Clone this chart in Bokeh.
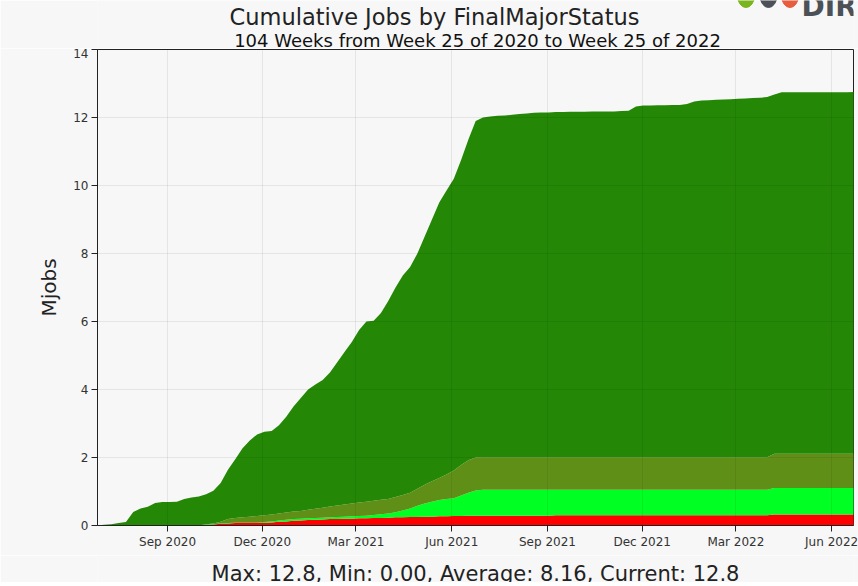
import pandas as pd
from bokeh.plotting import figure
from bokeh.layouts import column
from bokeh.models import Range1d, FixedTicker, DatetimeTickFormatter, ColumnDataSource, Label
from bokeh.embed import file_html
from bokeh.resources import INLINE

# ---- data (weekly, cumulative, Mjobs) ----
start_date = "2020-06-25"
n_points = 105
weeks = pd.date_range(start_date, periods=n_points, freq="7D")

failed = [0, 0, 0, 0, 0, 0, 0, 0, 0, 0,
          0, 0, 0, 0, 0, 0.01, 0.03, 0.05, 0.06, 0.07,
          0.07, 0.07, 0.07, 0.08, 0.09, 0.11, 0.12, 0.14, 0.15, 0.16,
          0.17, 0.18, 0.19, 0.19, 0.20, 0.20, 0.21, 0.21, 0.22, 0.22,
          0.23, 0.24, 0.24, 0.25, 0.25, 0.26, 0.26, 0.27, 0.27, 0.28,
          0.28, 0.29, 0.29, 0.29, 0.29, 0.29, 0.29, 0.29, 0.29, 0.29,
          0.29, 0.29, 0.29, 0.30, 0.30, 0.30, 0.30, 0.30, 0.30, 0.30,
          0.30, 0.30, 0.30, 0.30, 0.30, 0.30, 0.30, 0.30, 0.30, 0.30,
          0.30, 0.30, 0.30, 0.30, 0.30, 0.30, 0.30, 0.30, 0.30, 0.30,
          0.30, 0.30, 0.30, 0.32, 0.32, 0.32, 0.32, 0.32, 0.32, 0.32,
          0.32, 0.32, 0.32, 0.32, 0.32]

killed = [0, 0, 0, 0, 0, 0, 0, 0, 0, 0,
          0, 0, 0, 0, 0, 0.01, 0.01, 0.01, 0.01, 0.01,
          0.01, 0.01, 0.01, 0.02, 0.03, 0.04, 0.05, 0.05, 0.05, 0.05,
          0.05, 0.05, 0.05, 0.06, 0.06, 0.07, 0.07, 0.08, 0.09, 0.11,
          0.12, 0.15, 0.20, 0.25, 0.33, 0.39, 0.44, 0.48, 0.51, 0.52,
          0.60, 0.67, 0.74, 0.76, 0.76, 0.76, 0.76, 0.76, 0.76, 0.76,
          0.76, 0.76, 0.76, 0.75, 0.75, 0.75, 0.75, 0.75, 0.75, 0.75,
          0.75, 0.75, 0.75, 0.75, 0.75, 0.75, 0.75, 0.75, 0.75, 0.75,
          0.75, 0.75, 0.75, 0.75, 0.75, 0.75, 0.75, 0.75, 0.75, 0.75,
          0.75, 0.75, 0.75, 0.78, 0.78, 0.78, 0.78, 0.78, 0.78, 0.78,
          0.78, 0.78, 0.78, 0.78, 0.78]

completed = [0, 0, 0, 0, 0, 0, 0, 0, 0, 0,
             0, 0, 0, 0, 0, 0.02, 0.02, 0.05, 0.12, 0.14,
             0.16, 0.18, 0.20, 0.20, 0.20, 0.20, 0.21, 0.22, 0.23, 0.25,
             0.27, 0.29, 0.32, 0.34, 0.36, 0.38, 0.40, 0.41, 0.42, 0.43,
             0.43, 0.45, 0.46, 0.46, 0.50, 0.55, 0.60, 0.65, 0.72, 0.82,
             0.90, 0.96, 0.97, 0.96, 0.96, 0.96, 0.96, 0.96, 0.96, 0.96,
             0.96, 0.96, 0.96, 0.96, 0.96, 0.96, 0.96, 0.96, 0.96, 0.96,
             0.96, 0.96, 0.96, 0.96, 0.96, 0.96, 0.96, 0.96, 0.96, 0.96,
             0.96, 0.96, 0.96, 0.96, 0.96, 0.96, 0.96, 0.96, 0.96, 0.96,
             0.96, 0.96, 0.96, 1.01, 1.01, 1.01, 1.01, 1.01, 1.01, 1.01,
             1.01, 1.01, 1.01, 1.01, 1.01]

done = [0, 0.02, 0.04, 0.07, 0.10, 0.40, 0.50, 0.55, 0.66, 0.69,
        0.69, 0.70, 0.78, 0.82, 0.85, 0.88, 0.96, 1.14, 1.45, 1.73,
        2.03, 2.24, 2.40, 2.46, 2.46, 2.60, 2.82, 3.09, 3.32, 3.54,
        3.66, 3.76, 3.94, 4.21, 4.48, 4.75, 5.07, 5.30, 5.29, 5.49,
        5.82, 6.16, 6.45, 6.64, 6.92, 7.30, 7.70, 8.10, 8.35, 8.58,
        8.97, 9.43, 9.90, 9.99, 10.02, 10.04, 10.05, 10.07, 10.09, 10.11,
        10.13, 10.14, 10.14, 10.15, 10.15, 10.16, 10.16, 10.16, 10.17, 10.17,
        10.17, 10.17, 10.18, 10.19, 10.31, 10.34, 10.34, 10.35, 10.35, 10.36,
        10.36, 10.39, 10.46, 10.49, 10.50, 10.51, 10.52, 10.53, 10.54, 10.55,
        10.56, 10.57, 10.59, 10.57, 10.63, 10.63, 10.63, 10.63, 10.63, 10.63,
        10.63, 10.63, 10.63, 10.63, 10.64]

series_names = ["failed", "killed", "completed", "done"]
series_colors = ["#ff0000", "#00ff22", "#608f18", "#248806"]

x_tick_dates = ["2020-09-01", "2020-12-01", "2021-03-01", "2021-06-01",
                "2021-09-01", "2021-12-01", "2022-03-01", "2022-06-01"]
y_ticks = [0, 2, 4, 6, 8, 10, 12, 14]

title_text = "Cumulative Jobs by FinalMajorStatus"
subtitle_text = "104 Weeks from Week 25 of 2020 to Week 25 of 2022"
stats_text = "Max: 12.8, Min: 0.00, Average: 8.16, Current: 12.8"
logo_text = "DIRAC"
logo_colors = ["#7ab51d", "#4b5157", "#e95d3c"]

# ---- layout sizes (frames of the column children are aligned to x 97..853) ----
BG = "#f7f7f7"
W = 858
FRAME_LEFT, FRAME_RIGHT = 97, 853
TOP_H, MAIN_H, BOT_H = 48, 507, 27
TOP_BOTTOM_PAGE_Y = 52          # page y of the bottom edge of the top strip


def text_strip(height):
    f = figure(width=W, height=height, output_backend="svg", toolbar_location=None,
               x_range=Range1d(FRAME_LEFT, FRAME_RIGHT), y_range=Range1d(0, height),
               x_axis_location=None, y_axis_location=None, min_border=0,
               min_border_left=0, min_border_right=0, min_border_top=0, min_border_bottom=0)
    f.grid.visible = False
    f.outline_line_color = None
    f.background_fill_color = BG
    f.border_fill_color = BG
    return f


def add_text(f, txt, page_x, y, size, color, align="center", style="normal"):
    f.add_layout(Label(x=page_x - FRAME_LEFT, y=y, x_units="screen", y_units="screen",
                       text=txt, text_align=align, text_baseline="alphabetic",
                       text_font="DejaVu Sans", text_font_size=size,
                       text_font_style=style, text_color=color))


# top strip: titles + logo
top = text_strip(TOP_H)
add_text(top, title_text, 434, TOP_BOTTOM_PAGE_Y - 20, "22.5px", "#222222")
add_text(top, subtitle_text, 477, TOP_BOTTOM_PAGE_Y - 43.5, "18px", "#111111")
top.ellipse(x=[745.5, 768, 789.5], y=[TOP_BOTTOM_PAGE_Y + 1] * 3,
            width=17, height=24, color=logo_colors)
add_text(top, logo_text, 801, TOP_BOTTOM_PAGE_Y - 10, "28px", "#4b5157",
         align="left", style="bold")

# main chart
source = ColumnDataSource(dict(date=weeks, failed=failed, killed=killed,
                               completed=completed, done=done))

p = figure(width=W, height=MAIN_H, x_axis_type="datetime",
           output_backend="svg", toolbar_location=None,
           x_range=Range1d(pd.Timestamp("2020-06-25 16:00"), pd.Timestamp("2022-06-22")),
           y_range=Range1d(0, 14),
           min_border_left=97, min_border_right=5, min_border_top=1, min_border_bottom=30)

p.varea_stack(stackers=series_names, x="date", color=series_colors, source=source)

p.background_fill_color = BG
p.border_fill_color = BG
p.outline_line_color = "#222222"
p.outline_line_width = 1

tick_ms = [pd.Timestamp(d).value / 1e6 for d in x_tick_dates]
p.xaxis.ticker = FixedTicker(ticks=tick_ms)
fmt = "%b %Y"
p.xaxis.formatter = DatetimeTickFormatter(days=fmt, months=fmt, years=fmt)
p.yaxis.ticker = FixedTicker(ticks=y_ticks)

for ax in (p.xaxis[0], p.yaxis[0]):
    ax.axis_line_color = "#222222"
    ax.major_tick_line_color = "#222222"
    ax.major_tick_out = 6
    ax.major_tick_in = 0
    ax.minor_tick_line_color = None
    ax.major_label_text_font = "DejaVu Sans"
    ax.major_label_text_font_size = "12px"
    ax.major_label_text_color = "#333333"
    ax.major_label_standoff = 3

p.yaxis.axis_label = "Mjobs"
p.yaxis.axis_label_text_font = "DejaVu Sans"
p.yaxis.axis_label_text_font_size = "20px"
p.yaxis.axis_label_text_font_style = "normal"
p.yaxis.axis_label_text_color = "#222222"
p.yaxis.axis_label_standoff = 9

p.grid.grid_line_color = "#000000"
p.grid.grid_line_alpha = 0.07
p.grid.level = "overlay"

# bottom strip: statistics line
bottom = text_strip(BOT_H)
add_text(bottom, stats_text, 475, 8.5, "21px", "#222222")

page = column(top, p, bottom, spacing=0)
open("out.html", "w").write(file_html(page, INLINE))
